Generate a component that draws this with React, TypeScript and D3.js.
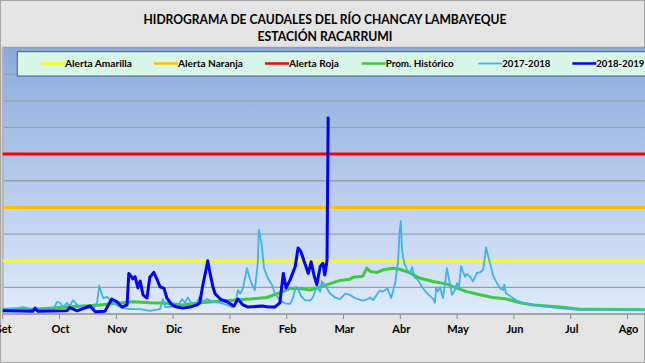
import * as d3 from 'd3'

// caudales (m3/s); t = meses desde el 1 de setiembre
const meses = ['Set', 'Oct', 'Nov', 'Dic', 'Ene', 'Feb', 'Mar', 'Abr', 'May', 'Jun', 'Jul', 'Ago']
const alertas = [
    { nombre: 'Alerta Amarilla', valor: 100, color: '#ffff00' },
    { nombre: 'Alerta Naranja', valor: 200, color: '#ffc000' },
    { nombre: 'Alerta Roja', valor: 300, color: '#ff0000' },
]

const promHistorico: [number, number][] = [
    [0, 9], [0.53, 9], [1.13, 13], [1.71, 17], [2.29, 23], [2.59, 21], [2.89, 20], [3.17, 17],
    [3.47, 21], [3.7, 23], [4.05, 26], [4.35, 28], [4.65, 31], [4.93, 42], [5.06, 48], [5.23, 48],
    [5.41, 45], [5.59, 51], [5.82, 59], [5.94, 63], [6.11, 65], [6.17, 69], [6.34, 71], [6.41, 86],
    [6.47, 80], [6.59, 78], [6.7, 83], [6.87, 86], [6.99, 84], [7.17, 77], [7.35, 67], [7.58, 61],
    [7.82, 56], [8.0, 48], [8.17, 42], [8.4, 36], [8.63, 31], [8.88, 28], [9.11, 21], [9.34, 17],
    [9.58, 15], [9.81, 13], [10.16, 9], [10.43, 9], [11.31, 8], [12, 7],
]

const caudal1718: [number, number][] = [
    [0, 9], [0.25, 11], [0.36, 13], [0.53, 8], [0.74, 9], [0.89, 9], [0.96, 23], [1.01, 21],
    [1.06, 13], [1.13, 21], [1.18, 15], [1.24, 26], [1.31, 17], [1.4, 13], [1.48, 13], [1.59, 9],
    [1.66, 21], [1.7, 53], [1.73, 42], [1.77, 30], [1.84, 32], [1.89, 26], [1.94, 21], [2.03, 15],
    [2.12, 11], [2.24, 9], [2.42, 9], [2.59, 6], [2.77, 9], [2.82, 28], [2.86, 13], [2.95, 14],
    [3.07, 13], [3.16, 28], [3.21, 21], [3.26, 31], [3.33, 19], [3.42, 21], [3.47, 34], [3.53, 23],
    [3.6, 28], [3.7, 23], [3.83, 21], [3.95, 17], [4.04, 13], [4.09, 15], [4.14, 45], [4.18, 38],
    [4.23, 48], [4.3, 86], [4.35, 67], [4.39, 55], [4.44, 45], [4.49, 95], [4.51, 158], [4.56, 130],
    [4.6, 86], [4.67, 67], [4.74, 55], [4.79, 39], [4.88, 26], [4.97, 20], [5.06, 19], [5.11, 30],
    [5.16, 51], [5.2, 48], [5.25, 34], [5.32, 26], [5.41, 25], [5.46, 31], [5.53, 51], [5.59, 42],
    [5.62, 61], [5.67, 55], [5.76, 39], [5.85, 31], [5.94, 28], [6.03, 38], [6.11, 36], [6.2, 30],
    [6.33, 25], [6.43, 28], [6.47, 31], [6.52, 26], [6.64, 44], [6.7, 42], [6.77, 48], [6.84, 30],
    [6.91, 58], [6.96, 98], [6.99, 158], [7.01, 174], [7.03, 120], [7.07, 95], [7.12, 83], [7.17, 77],
    [7.21, 88], [7.24, 70], [7.31, 64], [7.38, 51], [7.47, 39], [7.58, 28], [7.61, 21], [7.63, 50],
    [7.66, 42], [7.7, 50], [7.75, 30], [7.79, 59], [7.82, 86], [7.86, 64], [7.91, 36], [7.96, 45],
    [8.0, 58], [8.03, 48], [8.07, 90], [8.1, 80], [8.14, 70], [8.17, 75], [8.23, 70], [8.28, 61],
    [8.35, 77], [8.4, 78], [8.46, 83], [8.49, 108], [8.51, 125], [8.54, 111], [8.58, 95], [8.63, 73],
    [8.7, 58], [8.76, 48], [8.81, 45], [8.83, 55], [8.86, 39], [8.93, 34], [9.05, 25], [9.16, 21],
    [9.28, 19], [9.46, 15], [9.64, 13], [9.81, 11], [9.99, 9], [10.16, 8], [10.43, 8], [11.31, 8],
    [12, 7],
]

const caudal1819: [number, number][] = [
    [0, 6], [0.53, 5], [0.57, 11], [0.62, 5], [1.13, 6], [1.18, 12], [1.31, 6], [1.54, 15],
    [1.63, 4], [1.8, 5], [1.92, 28], [2.01, 23], [2.1, 13], [2.19, 17], [2.22, 76], [2.26, 71],
    [2.29, 66], [2.33, 70], [2.38, 49], [2.42, 62], [2.47, 36], [2.54, 30], [2.59, 69], [2.66, 78],
    [2.72, 64], [2.77, 51], [2.84, 48], [2.89, 30], [2.98, 17], [3.07, 13], [3.17, 11], [3.3, 13],
    [3.42, 17], [3.47, 21], [3.53, 58], [3.58, 83], [3.61, 100], [3.65, 77], [3.7, 51], [3.74, 38],
    [3.83, 28], [3.95, 23], [4.07, 15], [4.14, 28], [4.23, 17], [4.32, 13], [4.57, 15], [4.67, 13],
    [4.79, 13], [4.88, 21], [4.94, 76], [4.99, 49], [5.06, 64], [5.15, 89], [5.2, 124], [5.25, 117],
    [5.31, 98], [5.38, 76], [5.43, 98], [5.48, 73], [5.53, 55], [5.59, 89], [5.64, 95], [5.67, 73],
    [5.71, 100], [5.73, 370],
]

const series = [
    { nombre: 'Prom. Histórico', datos: promHistorico, color: '#3ccb3c', ancho: 3 },
    { nombre: '2017-2018', datos: caudal1718, color: '#3fb2e8', ancho: 1.8 },
    { nombre: '2018-2019', datos: caudal1819, color: '#0000ff', ancho: 3 },
]

const yTicks = d3.range(0, 501, 50)

function App() {
    const width = 645
    const height = 363
    const left = 2.7
    const top = 47.5
    const bottom = 314

    const x = d3.scaleLinear().domain([0, 12]).range([left, left + 56.8 * 12])
    const y = d3.scaleLinear().domain([0, 500]).range([bottom, top])

    const line = d3
        .line<[number, number]>()
        .x((d) => x(d[0]))
        .y((d) => y(d[1]))

    const leyenda = [
        ...alertas.map((a) => ({ nombre: a.nombre, color: a.color, ancho: 2.5 })),
        ...series.map((s) => ({ nombre: s.nombre, color: s.color, ancho: s.ancho === 3 ? 2.5 : 1.8 })),
    ]
    const leyendaX = [41, 154, 265, 361.7, 478.3, 572.3]
    const leyendaW = [67, 65, 50, 68, 48, 48]

    return (
        <div style={{ position: 'absolute', left: 0, top: 0 }}>
            <svg width={width} height={height} style={{ display: 'block' }} fontFamily="Lato, sans-serif">
                <defs>
                    <linearGradient id="fondo" x1="0" y1="0" x2="0" y2="1">
                        <stop offset="0" stopColor="#8aaade" />
                        <stop offset="1" stopColor="#e0ebfb" />
                    </linearGradient>
                </defs>
                <rect x={0.5} y={0.5} width={width - 1} height={height - 1} fill="#e4e4e4" stroke="#a6a6a6" />

                <text x={325} y={23.8} textAnchor="middle" fontSize={12.5} fontWeight={700} textLength={363} lengthAdjust="spacingAndGlyphs">
                    HIDROGRAMA DE CAUDALES DEL RÍO CHANCAY LAMBAYEQUE
                </text>
                <text x={325} y={41} textAnchor="middle" fontSize={12.5} fontWeight={700} textLength={135} lengthAdjust="spacingAndGlyphs">
                    ESTACIÓN RACARRUMI
                </text>

                <rect x={left} y={top} width={x(12) - left} height={bottom - top} fill="url(#fondo)" />

                {yTicks.map((t) => (
                    <line key={t} x1={left} x2={x(12)} y1={y(t)} y2={y(t)} stroke="#9a9ea7" strokeWidth={1.3} />
                ))}
                <line x1={left} x2={left} y1={top} y2={bottom} stroke="#b4b4b4" strokeWidth={2} />
                <line x1={left} x2={x(12)} y1={bottom} y2={bottom} stroke="#a0a0a0" strokeWidth={1.5} />

                {meses.map((m, i) => (
                    <g key={m}>
                        <line x1={x(i)} x2={x(i)} y1={bottom} y2={bottom + 5} stroke="#8c8c8c" strokeWidth={1} />
                        <text x={x(i) + 1} y={332.7} textAnchor="middle" fontSize={11} fontWeight={700}>
                            {m}
                        </text>
                    </g>
                ))}

                {alertas.map((a) => (
                    <line key={a.nombre} x1={left} x2={x(12)} y1={y(a.valor)} y2={y(a.valor)} stroke={a.color} strokeWidth={3} />
                ))}

                {series.map((s) => (
                    <path
                        key={s.nombre}
                        d={line(s.datos) ?? ''}
                        fill="none"
                        stroke={s.color}
                        strokeWidth={s.ancho}
                        strokeLinejoin="round"
                    />
                ))}

                <rect x={17.3} y={51.7} width={660} height={24.3} fill="#d9f7e8" stroke="#3f5f8c" strokeWidth={1} />
                {leyenda.map((l, i) => (
                    <g key={l.nombre}>
                        <line
                            x1={leyendaX[i]}
                            x2={leyendaX[i] + 24}
                            y1={63.5}
                            y2={63.5}
                            stroke={l.color}
                            strokeWidth={l.ancho}
                        />
                        <text
                            x={leyendaX[i] + 24}
                            y={66.6}
                            fontSize={9.5}
                            fontWeight={700}
                            textLength={leyendaW[i]}
                            lengthAdjust="spacingAndGlyphs"
                        >
                            {l.nombre}
                        </text>
                    </g>
                ))}
            </svg>
        </div>
    )
}

export default App
